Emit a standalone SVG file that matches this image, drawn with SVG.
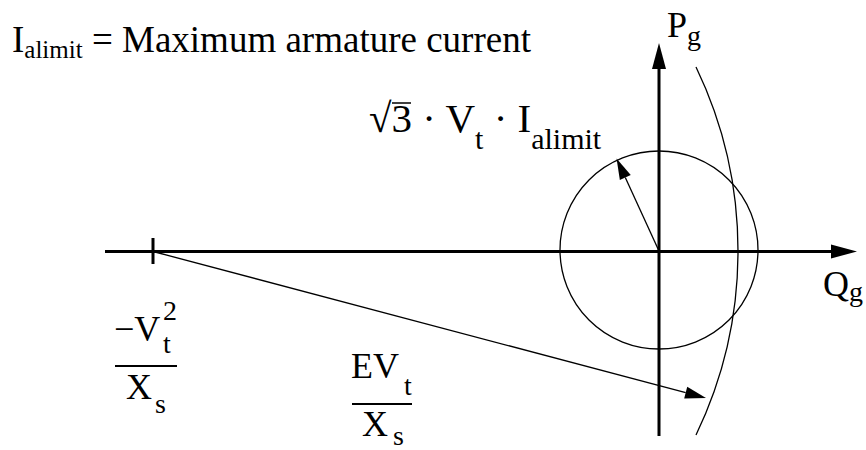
<svg xmlns="http://www.w3.org/2000/svg" width="866" height="450" viewBox="0 0 866 450">
<defs>
<style>
text{font-family:"Liberation Serif","Times New Roman",serif;fill:#000}
.m{font-size:36px}
.s{font-size:28px}
.axis{stroke:#000;stroke-width:3;fill:none}
.thin{stroke:#000;stroke-width:1.3;fill:none}
.frac{stroke:#000;stroke-width:2}
</style>
<marker id="big" markerUnits="userSpaceOnUse" markerWidth="30" markerHeight="20" refX="0" refY="10" orient="auto" overflow="visible"><path d="M0,3 L26,10 L0,17 z" fill="#000"/></marker>
<marker id="small" markerUnits="userSpaceOnUse" markerWidth="24" markerHeight="14" refX="0" refY="7" orient="auto" overflow="visible"><path d="M0,1 L21,7 L0,13 z" fill="#000"/></marker>
</defs>
<rect width="866" height="450" fill="#fff"/>
<g id="connectors">
<line id="q-axis" class="axis" x1="105" y1="251.5" x2="831" y2="251.5" marker-end="url(#big)"/>
<line id="p-axis" class="axis" x1="659" y1="436" x2="659" y2="69" marker-end="url(#big)"/>
<line id="tick" class="axis" x1="153" y1="238" x2="153" y2="264"/>
<line id="ev-arrow" class="thin" x1="155" y1="252" x2="685.7" y2="392.6" marker-end="url(#small)"/>
<line id="radius-arrow" class="thin" x1="659" y1="251" x2="625.3" y2="177.5" marker-end="url(#small)"/>
</g>
<g id="limit-circle"><circle cx="659" cy="250" r="99" class="thin" stroke-width="1.5"/></g>
<g id="field-limit"><path d="M696,67 A424,424 0 0,1 696,435" class="thin"/></g>
<g id="title"><text font-size="37" x="12" y="52">I<tspan font-size="25" dy="6">alimit</tspan><tspan dy="-6"> = Maximum armature current</tspan></text></g>
<g id="p-label"><text class="m" x="667" y="37">P<tspan class="s" x="687" y="45">g</tspan></text></g>
<g id="q-label"><text class="m" x="823" y="296">Q<tspan class="s" x="849" y="301">g</tspan></text></g>
<g id="radius-label">
<text font-size="41" x="369" y="132">√3 · V<tspan font-size="30" dy="17">t</tspan><tspan dy="-17"> · I</tspan><tspan font-size="30" dy="17">alimit</tspan></text>
<line x1="392" y1="103" x2="411" y2="103" stroke="#000" stroke-width="1.5"/>
</g>
<g id="vt2-label">
<text class="m" x="114" y="341">−V<tspan class="s" x="163" y="353">t</tspan><tspan class="s" x="163" y="320">2</tspan></text>
<line class="frac" x1="115" y1="366" x2="177" y2="366"/>
<text class="m" x="126" y="399">X<tspan class="s" x="155" y="413">s</tspan></text>
</g>
<g id="ev-label">
<text class="m" x="351" y="378">EV<tspan class="s" x="404" y="395">t</tspan></text>
<line class="frac" x1="352" y1="404" x2="412" y2="404"/>
<text class="m" x="362" y="436">X<tspan class="s" x="393" y="445">s</tspan></text>
</g>
</svg>
